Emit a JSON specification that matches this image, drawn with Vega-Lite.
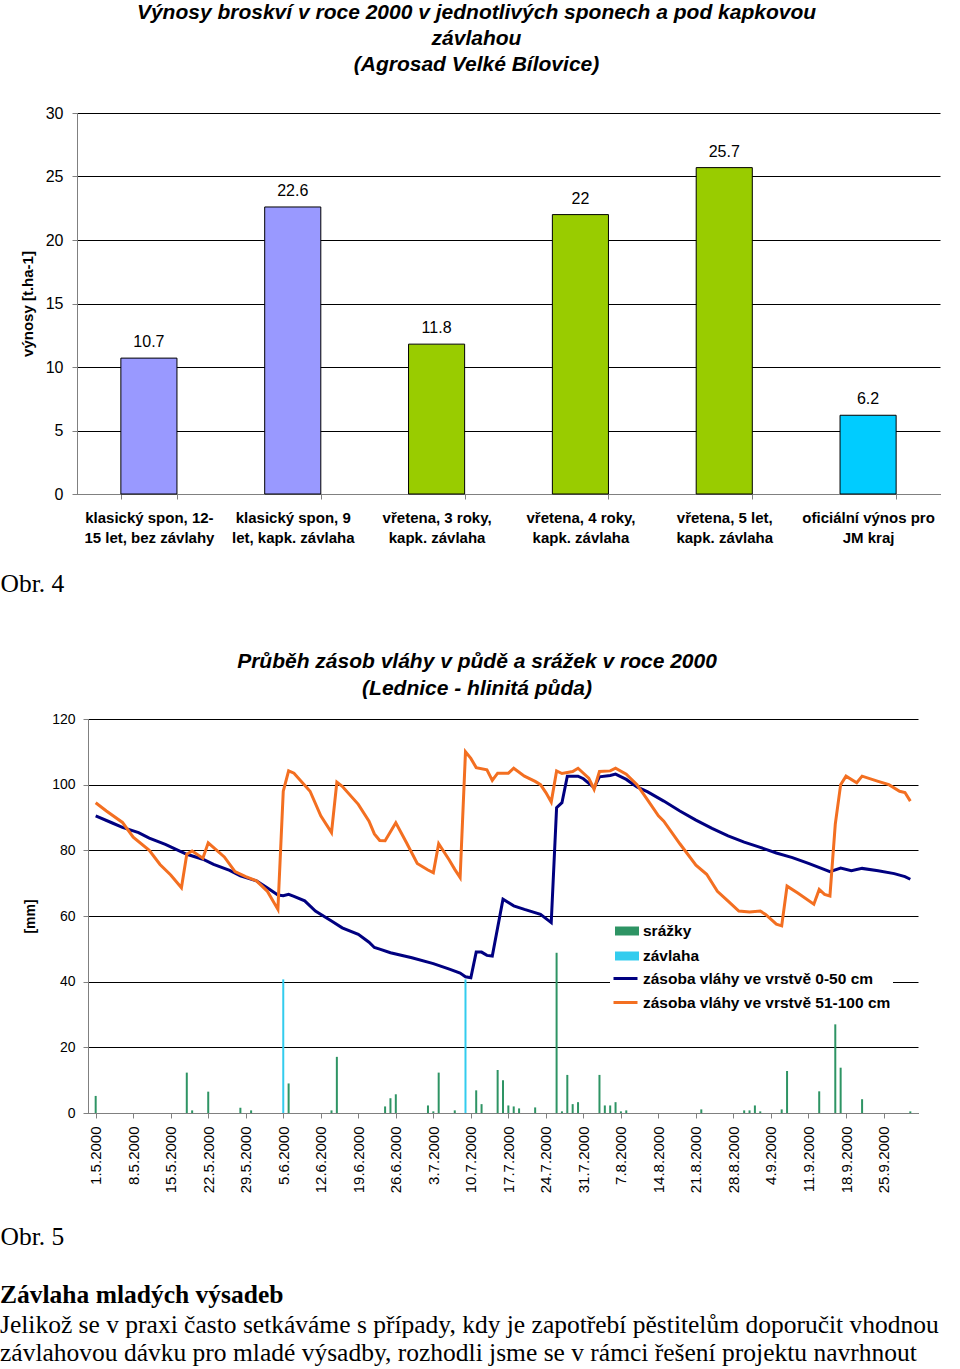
{
  "$schema": "https://vega.github.io/schema/vega-lite/v6.json",
  "padding": {"top": 2, "left": 0, "right": 0, "bottom": 0},
  "background": "white",
  "vconcat": [
    {
      "width": 852,
      "height": 381,
      "title": {
        "text": ["Výnosy broskví v roce 2000 v jednotlivých sponech a  pod kapkovou", "závlahou", "(Agrosad Velké Bílovice)"],
        "font": "Liberation Sans", "fontSize": 21, "fontWeight": "bold", "fontStyle": "italic",
        "lineHeight": 26, "anchor": "middle", "frame": "bounds", "offset": 30, "dx": 1, "color": "black"
      },
      "data": {"name": "vynosy"},
      "encoding": {
        "x": {
          "field": "kategorie", "type": "nominal", "sort": null,
          "scale": {"paddingInner": 0.61, "paddingOuter": 0.305, "range": [-11, 852]},
          "axis": {
            "labelExpr": "split(datum.label, '|')",
            "labelAngle": 0, "labelFont": "Liberation Sans", "labelFontSize": 15, "labelFontWeight": "bold", "labelColor": "black",
            "labelLineHeight": 20, "labelPadding": 11, "labelLimit": 300,
            "tickBand": "extent", "tickSize": 5, "tickColor": "#808080", "domainColor": "#808080",
            "title": "Obr. 4", "titleX": -88, "titleY": 97, "titleAlign": "left", "titleBaseline": "alphabetic",
            "titleFont": "Liberation Serif", "titleFontSize": 25.5, "titleFontWeight": "normal", "titleColor": "black"
          }
        },
        "y": {
          "field": "vynos", "type": "quantitative",
          "scale": {"domain": [0, 30], "nice": false},
          "axis": {
            "values": [0, 5, 10, 15, 20, 25, 30], "title": "výnosy [t.ha-1]", "offset": 11,
            "grid": true, "gridColor": "black", "gridWidth": 1,
            "domainColor": "#808080", "tickColor": "#808080", "tickSize": 5,
            "labelFont": "Liberation Sans", "labelFontSize": 16, "labelColor": "black", "labelPadding": 9,
            "titleFont": "Liberation Sans", "titleFontSize": 15, "titleFontWeight": "bold", "titleColor": "black", "titlePadding": 10
          }
        }
      },
      "layer": [
        {
          "mark": {"type": "bar", "stroke": "black", "strokeWidth": 1},
          "encoding": {
            "color": {
              "field": "skupina", "type": "nominal", "legend": null,
              "scale": {"domain": ["klasický spon", "vřetena", "JM kraj"], "range": ["#9999FF", "#99CC00", "#00CCFF"]}
            }
          }
        },
        {
          "mark": {"type": "text", "baseline": "bottom", "dy": -8, "font": "Liberation Sans", "fontSize": 16, "color": "black"},
          "encoding": {"text": {"field": "vynos", "type": "quantitative"}}
        }
      ]
    },
    {
      "width": 830,
      "height": 394,
      "title": {
        "text": ["Průběh zásob vláhy v půdě a srážek v roce 2000", "(Lednice - hlinitá půda)"],
        "font": "Liberation Sans", "fontSize": 21, "fontWeight": "bold", "fontStyle": "italic",
        "lineHeight": 27, "anchor": "middle", "frame": "bounds", "offset": 13, "dx": 18, "color": "black"
      },
      "encoding": {
        "x": {
          "field": "datum", "type": "temporal",
          "scale": {"type": "utc", "nice": false, "domain": [{"year": 2000, "month": 4, "date": 30, "hours": 12, "utc": true}, {"year": 2000, "month": 9, "date": 30, "hours": 12, "utc": true}]},
          "axis": {
            "values": [
              {"year": 2000, "month": 5, "date": 1, "utc": true}, {"year": 2000, "month": 5, "date": 8, "utc": true},
              {"year": 2000, "month": 5, "date": 15, "utc": true}, {"year": 2000, "month": 5, "date": 22, "utc": true},
              {"year": 2000, "month": 5, "date": 29, "utc": true}, {"year": 2000, "month": 6, "date": 5, "utc": true},
              {"year": 2000, "month": 6, "date": 12, "utc": true}, {"year": 2000, "month": 6, "date": 19, "utc": true},
              {"year": 2000, "month": 6, "date": 26, "utc": true}, {"year": 2000, "month": 7, "date": 3, "utc": true},
              {"year": 2000, "month": 7, "date": 10, "utc": true}, {"year": 2000, "month": 7, "date": 17, "utc": true},
              {"year": 2000, "month": 7, "date": 24, "utc": true}, {"year": 2000, "month": 7, "date": 31, "utc": true},
              {"year": 2000, "month": 8, "date": 7, "utc": true}, {"year": 2000, "month": 8, "date": 14, "utc": true},
              {"year": 2000, "month": 8, "date": 21, "utc": true}, {"year": 2000, "month": 8, "date": 28, "utc": true},
              {"year": 2000, "month": 9, "date": 4, "utc": true}, {"year": 2000, "month": 9, "date": 11, "utc": true},
              {"year": 2000, "month": 9, "date": 18, "utc": true}, {"year": 2000, "month": 9, "date": 25, "utc": true}
            ],
            "labelExpr": "utcFormat(datum.value, '%-d.%-m.%Y')",
            "labelAngle": -90, "labelAlign": "right", "labelBaseline": "middle",
            "labelFont": "Liberation Sans", "labelFontSize": 15, "labelColor": "black", "labelPadding": 8, "labelFlush": false, "labelOverlap": false,
            "tickSize": 5, "tickColor": "#808080", "domainColor": "#808080", "grid": false,
            "title": "Obr. 5", "titleX": -88, "titleY": 131, "titleAlign": "left", "titleBaseline": "alphabetic", "titleAngle": 0,
            "titleFont": "Liberation Serif", "titleFontSize": 25.5, "titleFontWeight": "normal", "titleColor": "black"
          }
        },
        "y": {
          "type": "quantitative",
          "scale": {"domain": [0, 120], "nice": false},
          "axis": {
            "values": [0, 20, 40, 60, 80, 100, 120], "title": "[mm]",
            "grid": true, "gridColor": "black", "gridWidth": 1,
            "domainColor": "#808080", "tickColor": "#808080", "tickSize": 5,
            "labelFont": "Liberation Sans", "labelFontSize": 14, "labelColor": "black", "labelPadding": 8,
            "titleFont": "Liberation Sans", "titleFontSize": 14, "titleFontWeight": "bold", "titleColor": "black", "titlePadding": 14
          }
        }
      },
      "layer": [
        {
          "data": {"name": "srazky"},
          "mark": {"type": "bar", "width": 2},
          "encoding": {
            "y": {"field": "mm", "type": "quantitative", "stack": null},
            "fill": {
              "field": "druh", "type": "nominal",
              "scale": {"domain": ["srážky", "závlaha"], "range": ["#2E9464", "#33CCEE"]},
              "legend": {
                "title": null, "orient": "none", "legendX": 525, "legendY": 804,
                "symbolType": "M-1,-0.375H1V0.375H-1Z", "symbolSize": 576, "symbolStrokeWidth": 0,
                "labelFont": "Liberation Sans", "labelFontSize": 15.5, "labelFontWeight": "bold", "labelColor": "black",
                "labelOffset": 4, "labelLimit": 400, "rowPadding": 4, "padding": 2, "fillColor": "white"
              }
            }
          }
        },
        {
          "data": {"name": "zasoby"},
          "mark": {"type": "line", "strokeWidth": 3, "interpolate": "linear"},
          "encoding": {
            "y": {"field": "mm", "type": "quantitative"},
            "stroke": {
              "field": "vrstva", "type": "nominal",
              "scale": {"domain": ["zásoba vláhy ve vrstvě 0-50 cm", "zásoba vláhy ve vrstvě 51-100 cm"], "range": ["#000080", "#F36F21"]},
              "legend": {
                "title": null, "orient": "none", "legendX": 522, "legendY": 850,
                "symbolType": "stroke", "symbolSize": 576, "symbolStrokeWidth": 3,
                "labelFont": "Liberation Sans", "labelFontSize": 15.5, "labelFontWeight": "bold", "labelColor": "black",
                "labelOffset": 4, "labelLimit": 400, "rowPadding": 2, "padding": 2, "fillColor": "white"
              }
            }
          }
        }
      ]
    }
  ],
  "spacing": 54,
  "title": {
    "text": "Závlaha mladých výsadeb",
    "subtitle": ["Jelikož se v praxi často setkáváme s případy, kdy je zapotřebí pěstitelům doporučit vhodnou", "závlahovou dávku pro mladé výsadby, rozhodli jsme se v rámci řešení projektu navrhnout"],
    "orient": "bottom", "anchor": "start", "frame": "bounds", "offset": 33,
    "font": "Liberation Serif", "fontSize": 25.5, "fontWeight": "bold", "color": "black",
    "subtitleFont": "Liberation Serif", "subtitleFontSize": 25.5, "subtitleColor": "black", "subtitleLineHeight": 28, "subtitlePadding": 5
  },
  "config": {"view": {"stroke": null}},
  "datasets": {
    "vynosy": [
      {"kategorie": "klasický spon, 12-|15 let, bez závlahy", "skupina": "klasický spon", "vynos": 10.7},
      {"kategorie": "klasický spon, 9|let, kapk. závlaha", "skupina": "klasický spon", "vynos": 22.6},
      {"kategorie": "vřetena, 3 roky,|kapk. závlaha", "skupina": "vřetena", "vynos": 11.8},
      {"kategorie": "vřetena, 4 roky,|kapk. závlaha", "skupina": "vřetena", "vynos": 22},
      {"kategorie": "vřetena, 5 let,|kapk. závlaha", "skupina": "vřetena", "vynos": 25.7},
      {"kategorie": "oficiální výnos pro|JM kraj", "skupina": "JM kraj", "vynos": 6.2}
    ],
    "srazky": [
      {"datum": "2000-05-01", "druh": "srážky", "mm": 5.2},
      {"datum": "2000-05-18", "druh": "srážky", "mm": 12.3},
      {"datum": "2000-05-19", "druh": "srážky", "mm": 0.8},
      {"datum": "2000-05-22", "druh": "srážky", "mm": 6.5},
      {"datum": "2000-05-28", "druh": "srážky", "mm": 1.6},
      {"datum": "2000-05-30", "druh": "srážky", "mm": 0.8},
      {"datum": "2000-06-05", "druh": "závlaha", "mm": 40.7},
      {"datum": "2000-06-06", "druh": "srážky", "mm": 9.0},
      {"datum": "2000-06-14", "druh": "srážky", "mm": 0.8},
      {"datum": "2000-06-15", "druh": "srážky", "mm": 17.1},
      {"datum": "2000-06-24", "druh": "srážky", "mm": 2.0},
      {"datum": "2000-06-25", "druh": "srážky", "mm": 4.5},
      {"datum": "2000-06-26", "druh": "srážky", "mm": 5.7},
      {"datum": "2000-07-02", "druh": "srážky", "mm": 2.3},
      {"datum": "2000-07-03", "druh": "srážky", "mm": 0.5},
      {"datum": "2000-07-04", "druh": "srážky", "mm": 12.3},
      {"datum": "2000-07-07", "druh": "srážky", "mm": 0.8},
      {"datum": "2000-07-09", "druh": "závlaha", "mm": 40.7},
      {"datum": "2000-07-11", "druh": "srážky", "mm": 6.9},
      {"datum": "2000-07-12", "druh": "srážky", "mm": 2.7},
      {"datum": "2000-07-15", "druh": "srážky", "mm": 13.1},
      {"datum": "2000-07-16", "druh": "srážky", "mm": 10.0},
      {"datum": "2000-07-17", "druh": "srážky", "mm": 2.3},
      {"datum": "2000-07-18", "druh": "srážky", "mm": 2.0},
      {"datum": "2000-07-19", "druh": "srážky", "mm": 1.4},
      {"datum": "2000-07-22", "druh": "srážky", "mm": 1.7},
      {"datum": "2000-07-26", "druh": "srážky", "mm": 48.8},
      {"datum": "2000-07-27", "druh": "srážky", "mm": 0.5},
      {"datum": "2000-07-28", "druh": "srážky", "mm": 11.6},
      {"datum": "2000-07-29", "druh": "srážky", "mm": 2.7},
      {"datum": "2000-07-30", "druh": "srážky", "mm": 3.3},
      {"datum": "2000-08-03", "druh": "srážky", "mm": 11.6},
      {"datum": "2000-08-04", "druh": "srážky", "mm": 2.3},
      {"datum": "2000-08-05", "druh": "srážky", "mm": 2.3},
      {"datum": "2000-08-06", "druh": "srážky", "mm": 3.3},
      {"datum": "2000-08-07", "druh": "srážky", "mm": 0.5},
      {"datum": "2000-08-08", "druh": "srážky", "mm": 0.8},
      {"datum": "2000-08-22", "druh": "srážky", "mm": 1.1},
      {"datum": "2000-08-30", "druh": "srážky", "mm": 0.8},
      {"datum": "2000-08-31", "druh": "srážky", "mm": 0.8},
      {"datum": "2000-09-01", "druh": "srážky", "mm": 2.3},
      {"datum": "2000-09-02", "druh": "srážky", "mm": 0.5},
      {"datum": "2000-09-06", "druh": "srážky", "mm": 1.1},
      {"datum": "2000-09-07", "druh": "srážky", "mm": 12.8},
      {"datum": "2000-09-13", "druh": "srážky", "mm": 6.6},
      {"datum": "2000-09-16", "druh": "srážky", "mm": 27.0},
      {"datum": "2000-09-17", "druh": "srážky", "mm": 13.8},
      {"datum": "2000-09-21", "druh": "srážky", "mm": 4.2},
      {"datum": "2000-09-30", "druh": "srážky", "mm": 0.5}
    ],
    "zasoby": [
      {"datum": "2000-05-01", "vrstva": "zásoba vláhy ve vrstvě 0-50 cm", "mm": 90.5},
      {"datum": "2000-05-04", "vrstva": "zásoba vláhy ve vrstvě 0-50 cm", "mm": 88.4},
      {"datum": "2000-05-06", "vrstva": "zásoba vláhy ve vrstvě 0-50 cm", "mm": 87},
      {"datum": "2000-05-09", "vrstva": "zásoba vláhy ve vrstvě 0-50 cm", "mm": 85.4},
      {"datum": "2000-05-11", "vrstva": "zásoba vláhy ve vrstvě 0-50 cm", "mm": 83.7},
      {"datum": "2000-05-14", "vrstva": "zásoba vláhy ve vrstvě 0-50 cm", "mm": 81.8},
      {"datum": "2000-05-16", "vrstva": "zásoba vláhy ve vrstvě 0-50 cm", "mm": 80.3},
      {"datum": "2000-05-18", "vrstva": "zásoba vláhy ve vrstvě 0-50 cm", "mm": 78.8},
      {"datum": "2000-05-21", "vrstva": "zásoba vláhy ve vrstvě 0-50 cm", "mm": 77.3},
      {"datum": "2000-05-23", "vrstva": "zásoba vláhy ve vrstvě 0-50 cm", "mm": 75.7},
      {"datum": "2000-05-26", "vrstva": "zásoba vláhy ve vrstvě 0-50 cm", "mm": 73.9},
      {"datum": "2000-05-28", "vrstva": "zásoba vláhy ve vrstvě 0-50 cm", "mm": 72.2},
      {"datum": "2000-05-31", "vrstva": "zásoba vláhy ve vrstvě 0-50 cm", "mm": 70.7},
      {"datum": "2000-06-02", "vrstva": "zásoba vláhy ve vrstvě 0-50 cm", "mm": 68.6},
      {"datum": "2000-06-04", "vrstva": "zásoba vláhy ve vrstvě 0-50 cm", "mm": 66.4},
      {"datum": "2000-06-05", "vrstva": "zásoba vláhy ve vrstvě 0-50 cm", "mm": 66.2},
      {"datum": "2000-06-06", "vrstva": "zásoba vláhy ve vrstvě 0-50 cm", "mm": 66.6},
      {"datum": "2000-06-07", "vrstva": "zásoba vláhy ve vrstvě 0-50 cm", "mm": 66},
      {"datum": "2000-06-09", "vrstva": "zásoba vláhy ve vrstvě 0-50 cm", "mm": 64.6},
      {"datum": "2000-06-11", "vrstva": "zásoba vláhy ve vrstvě 0-50 cm", "mm": 61.5},
      {"datum": "2000-06-14", "vrstva": "zásoba vláhy ve vrstvě 0-50 cm", "mm": 58.5},
      {"datum": "2000-06-16", "vrstva": "zásoba vláhy ve vrstvě 0-50 cm", "mm": 56.4},
      {"datum": "2000-06-19", "vrstva": "zásoba vláhy ve vrstvě 0-50 cm", "mm": 54.4},
      {"datum": "2000-06-21", "vrstva": "zásoba vláhy ve vrstvě 0-50 cm", "mm": 52},
      {"datum": "2000-06-22", "vrstva": "zásoba vláhy ve vrstvě 0-50 cm", "mm": 50.4},
      {"datum": "2000-06-23", "vrstva": "zásoba vláhy ve vrstvě 0-50 cm", "mm": 49.9},
      {"datum": "2000-06-25", "vrstva": "zásoba vláhy ve vrstvě 0-50 cm", "mm": 48.8},
      {"datum": "2000-06-29", "vrstva": "zásoba vláhy ve vrstvě 0-50 cm", "mm": 47.3},
      {"datum": "2000-07-03", "vrstva": "zásoba vláhy ve vrstvě 0-50 cm", "mm": 45.5},
      {"datum": "2000-07-06", "vrstva": "zásoba vláhy ve vrstvě 0-50 cm", "mm": 43.8},
      {"datum": "2000-07-08", "vrstva": "zásoba vláhy ve vrstvě 0-50 cm", "mm": 42.6},
      {"datum": "2000-07-09", "vrstva": "zásoba vláhy ve vrstvě 0-50 cm", "mm": 41.5},
      {"datum": "2000-07-10", "vrstva": "zásoba vláhy ve vrstvě 0-50 cm", "mm": 41.2},
      {"datum": "2000-07-11", "vrstva": "zásoba vláhy ve vrstvě 0-50 cm", "mm": 49},
      {"datum": "2000-07-12", "vrstva": "zásoba vláhy ve vrstvě 0-50 cm", "mm": 49},
      {"datum": "2000-07-13", "vrstva": "zásoba vláhy ve vrstvě 0-50 cm", "mm": 48},
      {"datum": "2000-07-14", "vrstva": "zásoba vláhy ve vrstvě 0-50 cm", "mm": 47.8},
      {"datum": "2000-07-16", "vrstva": "zásoba vláhy ve vrstvě 0-50 cm", "mm": 65.1},
      {"datum": "2000-07-18", "vrstva": "zásoba vláhy ve vrstvě 0-50 cm", "mm": 63.1},
      {"datum": "2000-07-20", "vrstva": "zásoba vláhy ve vrstvě 0-50 cm", "mm": 62},
      {"datum": "2000-07-23", "vrstva": "zásoba vláhy ve vrstvě 0-50 cm", "mm": 60.5},
      {"datum": "2000-07-25", "vrstva": "zásoba vláhy ve vrstvě 0-50 cm", "mm": 58},
      {"datum": "2000-07-26", "vrstva": "zásoba vláhy ve vrstvě 0-50 cm", "mm": 93},
      {"datum": "2000-07-27", "vrstva": "zásoba vláhy ve vrstvě 0-50 cm", "mm": 94.5},
      {"datum": "2000-07-28", "vrstva": "zásoba vláhy ve vrstvě 0-50 cm", "mm": 102.6},
      {"datum": "2000-07-30", "vrstva": "zásoba vláhy ve vrstvě 0-50 cm", "mm": 102.6},
      {"datum": "2000-07-31", "vrstva": "zásoba vláhy ve vrstvě 0-50 cm", "mm": 101.8},
      {"datum": "2000-08-02", "vrstva": "zásoba vláhy ve vrstvě 0-50 cm", "mm": 99.1},
      {"datum": "2000-08-03", "vrstva": "zásoba vláhy ve vrstvě 0-50 cm", "mm": 102.4},
      {"datum": "2000-08-05", "vrstva": "zásoba vláhy ve vrstvě 0-50 cm", "mm": 102.8},
      {"datum": "2000-08-06", "vrstva": "zásoba vláhy ve vrstvě 0-50 cm", "mm": 103.2},
      {"datum": "2000-08-08", "vrstva": "zásoba vláhy ve vrstvě 0-50 cm", "mm": 101.6},
      {"datum": "2000-08-10", "vrstva": "zásoba vláhy ve vrstvě 0-50 cm", "mm": 99.3},
      {"datum": "2000-08-12", "vrstva": "zásoba vláhy ve vrstvě 0-50 cm", "mm": 97.8},
      {"datum": "2000-08-15", "vrstva": "zásoba vláhy ve vrstvě 0-50 cm", "mm": 95},
      {"datum": "2000-08-18", "vrstva": "zásoba vláhy ve vrstvě 0-50 cm", "mm": 92},
      {"datum": "2000-08-21", "vrstva": "zásoba vláhy ve vrstvě 0-50 cm", "mm": 89.2},
      {"datum": "2000-08-24", "vrstva": "zásoba vláhy ve vrstvě 0-50 cm", "mm": 86.7},
      {"datum": "2000-08-27", "vrstva": "zásoba vláhy ve vrstvě 0-50 cm", "mm": 84.4},
      {"datum": "2000-08-30", "vrstva": "zásoba vláhy ve vrstvě 0-50 cm", "mm": 82.5},
      {"datum": "2000-09-02", "vrstva": "zásoba vláhy ve vrstvě 0-50 cm", "mm": 80.9},
      {"datum": "2000-09-05", "vrstva": "zásoba vláhy ve vrstvě 0-50 cm", "mm": 79.2},
      {"datum": "2000-09-08", "vrstva": "zásoba vláhy ve vrstvě 0-50 cm", "mm": 77.8},
      {"datum": "2000-09-11", "vrstva": "zásoba vláhy ve vrstvě 0-50 cm", "mm": 76},
      {"datum": "2000-09-15", "vrstva": "zásoba vláhy ve vrstvě 0-50 cm", "mm": 73.5},
      {"datum": "2000-09-17", "vrstva": "zásoba vláhy ve vrstvě 0-50 cm", "mm": 74.6},
      {"datum": "2000-09-19", "vrstva": "zásoba vláhy ve vrstvě 0-50 cm", "mm": 73.8},
      {"datum": "2000-09-21", "vrstva": "zásoba vláhy ve vrstvě 0-50 cm", "mm": 74.5},
      {"datum": "2000-09-24", "vrstva": "zásoba vláhy ve vrstvě 0-50 cm", "mm": 73.8},
      {"datum": "2000-09-27", "vrstva": "zásoba vláhy ve vrstvě 0-50 cm", "mm": 72.9},
      {"datum": "2000-09-29", "vrstva": "zásoba vláhy ve vrstvě 0-50 cm", "mm": 72},
      {"datum": "2000-09-30", "vrstva": "zásoba vláhy ve vrstvě 0-50 cm", "mm": 71.2},
      {"datum": "2000-05-01", "vrstva": "zásoba vláhy ve vrstvě 51-100 cm", "mm": 94.5},
      {"datum": "2000-05-03", "vrstva": "zásoba vláhy ve vrstvě 51-100 cm", "mm": 92},
      {"datum": "2000-05-06", "vrstva": "zásoba vláhy ve vrstvě 51-100 cm", "mm": 88.5},
      {"datum": "2000-05-08", "vrstva": "zásoba vláhy ve vrstvě 51-100 cm", "mm": 84},
      {"datum": "2000-05-11", "vrstva": "zásoba vláhy ve vrstvě 51-100 cm", "mm": 80},
      {"datum": "2000-05-13", "vrstva": "zásoba vláhy ve vrstvě 51-100 cm", "mm": 75.7},
      {"datum": "2000-05-15", "vrstva": "zásoba vláhy ve vrstvě 51-100 cm", "mm": 72.5},
      {"datum": "2000-05-17", "vrstva": "zásoba vláhy ve vrstvě 51-100 cm", "mm": 68.6},
      {"datum": "2000-05-18", "vrstva": "zásoba vláhy ve vrstvě 51-100 cm", "mm": 78.8},
      {"datum": "2000-05-19", "vrstva": "zásoba vláhy ve vrstvě 51-100 cm", "mm": 79.8},
      {"datum": "2000-05-21", "vrstva": "zásoba vláhy ve vrstvě 51-100 cm", "mm": 77.6},
      {"datum": "2000-05-22", "vrstva": "zásoba vláhy ve vrstvě 51-100 cm", "mm": 82.3},
      {"datum": "2000-05-25", "vrstva": "zásoba vláhy ve vrstvě 51-100 cm", "mm": 78},
      {"datum": "2000-05-27", "vrstva": "zásoba vláhy ve vrstvě 51-100 cm", "mm": 73.5},
      {"datum": "2000-05-29", "vrstva": "zásoba vláhy ve vrstvě 51-100 cm", "mm": 72},
      {"datum": "2000-05-31", "vrstva": "zásoba vláhy ve vrstvě 51-100 cm", "mm": 70.7},
      {"datum": "2000-06-02", "vrstva": "zásoba vláhy ve vrstvě 51-100 cm", "mm": 67.6},
      {"datum": "2000-06-04", "vrstva": "zásoba vláhy ve vrstvě 51-100 cm", "mm": 62},
      {"datum": "2000-06-05", "vrstva": "zásoba vláhy ve vrstvě 51-100 cm", "mm": 98},
      {"datum": "2000-06-06", "vrstva": "zásoba vláhy ve vrstvě 51-100 cm", "mm": 104.2},
      {"datum": "2000-06-07", "vrstva": "zásoba vláhy ve vrstvě 51-100 cm", "mm": 103.5},
      {"datum": "2000-06-10", "vrstva": "zásoba vláhy ve vrstvě 51-100 cm", "mm": 98},
      {"datum": "2000-06-12", "vrstva": "zásoba vláhy ve vrstvě 51-100 cm", "mm": 90.5},
      {"datum": "2000-06-14", "vrstva": "zásoba vláhy ve vrstvě 51-100 cm", "mm": 85.4},
      {"datum": "2000-06-15", "vrstva": "zásoba vláhy ve vrstvě 51-100 cm", "mm": 100.8},
      {"datum": "2000-06-16", "vrstva": "zásoba vláhy ve vrstvě 51-100 cm", "mm": 99.5},
      {"datum": "2000-06-19", "vrstva": "zásoba vláhy ve vrstvě 51-100 cm", "mm": 94},
      {"datum": "2000-06-21", "vrstva": "zásoba vláhy ve vrstvě 51-100 cm", "mm": 88.9},
      {"datum": "2000-06-22", "vrstva": "zásoba vláhy ve vrstvě 51-100 cm", "mm": 85},
      {"datum": "2000-06-23", "vrstva": "zásoba vláhy ve vrstvě 51-100 cm", "mm": 83},
      {"datum": "2000-06-24", "vrstva": "zásoba vláhy ve vrstvě 51-100 cm", "mm": 82.9},
      {"datum": "2000-06-26", "vrstva": "zásoba vláhy ve vrstvě 51-100 cm", "mm": 88.4},
      {"datum": "2000-06-28", "vrstva": "zásoba vláhy ve vrstvě 51-100 cm", "mm": 82.3},
      {"datum": "2000-06-30", "vrstva": "zásoba vláhy ve vrstvě 51-100 cm", "mm": 76},
      {"datum": "2000-07-02", "vrstva": "zásoba vláhy ve vrstvě 51-100 cm", "mm": 74},
      {"datum": "2000-07-03", "vrstva": "zásoba vláhy ve vrstvě 51-100 cm", "mm": 73.2},
      {"datum": "2000-07-04", "vrstva": "zásoba vláhy ve vrstvě 51-100 cm", "mm": 82},
      {"datum": "2000-07-06", "vrstva": "zásoba vláhy ve vrstvě 51-100 cm", "mm": 77},
      {"datum": "2000-07-07", "vrstva": "zásoba vláhy ve vrstvě 51-100 cm", "mm": 74.2},
      {"datum": "2000-07-08", "vrstva": "zásoba vláhy ve vrstvě 51-100 cm", "mm": 71.7},
      {"datum": "2000-07-09", "vrstva": "zásoba vláhy ve vrstvě 51-100 cm", "mm": 110},
      {"datum": "2000-07-10", "vrstva": "zásoba vláhy ve vrstvě 51-100 cm", "mm": 108},
      {"datum": "2000-07-11", "vrstva": "zásoba vláhy ve vrstvě 51-100 cm", "mm": 105.2},
      {"datum": "2000-07-13", "vrstva": "zásoba vláhy ve vrstvě 51-100 cm", "mm": 104.5},
      {"datum": "2000-07-14", "vrstva": "zásoba vláhy ve vrstvě 51-100 cm", "mm": 101.3},
      {"datum": "2000-07-15", "vrstva": "zásoba vláhy ve vrstvě 51-100 cm", "mm": 103.5},
      {"datum": "2000-07-17", "vrstva": "zásoba vláhy ve vrstvě 51-100 cm", "mm": 103.5},
      {"datum": "2000-07-18", "vrstva": "zásoba vláhy ve vrstvě 51-100 cm", "mm": 105},
      {"datum": "2000-07-20", "vrstva": "zásoba vláhy ve vrstvě 51-100 cm", "mm": 102.6},
      {"datum": "2000-07-22", "vrstva": "zásoba vláhy ve vrstvě 51-100 cm", "mm": 101},
      {"datum": "2000-07-23", "vrstva": "zásoba vláhy ve vrstvě 51-100 cm", "mm": 100},
      {"datum": "2000-07-24", "vrstva": "zásoba vláhy ve vrstvě 51-100 cm", "mm": 97.6},
      {"datum": "2000-07-25", "vrstva": "zásoba vláhy ve vrstvě 51-100 cm", "mm": 94.7},
      {"datum": "2000-07-26", "vrstva": "zásoba vláhy ve vrstvě 51-100 cm", "mm": 104.2},
      {"datum": "2000-07-27", "vrstva": "zásoba vláhy ve vrstvě 51-100 cm", "mm": 103.4},
      {"datum": "2000-07-29", "vrstva": "zásoba vláhy ve vrstvě 51-100 cm", "mm": 104},
      {"datum": "2000-07-30", "vrstva": "zásoba vláhy ve vrstvě 51-100 cm", "mm": 105},
      {"datum": "2000-08-01", "vrstva": "zásoba vláhy ve vrstvě 51-100 cm", "mm": 102},
      {"datum": "2000-08-02", "vrstva": "zásoba vláhy ve vrstvě 51-100 cm", "mm": 98.6},
      {"datum": "2000-08-03", "vrstva": "zásoba vláhy ve vrstvě 51-100 cm", "mm": 104},
      {"datum": "2000-08-05", "vrstva": "zásoba vláhy ve vrstvě 51-100 cm", "mm": 104.2},
      {"datum": "2000-08-06", "vrstva": "zásoba vláhy ve vrstvě 51-100 cm", "mm": 105},
      {"datum": "2000-08-08", "vrstva": "zásoba vláhy ve vrstvě 51-100 cm", "mm": 103.2},
      {"datum": "2000-08-10", "vrstva": "zásoba vláhy ve vrstvě 51-100 cm", "mm": 100},
      {"datum": "2000-08-12", "vrstva": "zásoba vláhy ve vrstvě 51-100 cm", "mm": 95.3},
      {"datum": "2000-08-14", "vrstva": "zásoba vláhy ve vrstvě 51-100 cm", "mm": 90.5},
      {"datum": "2000-08-15", "vrstva": "zásoba vláhy ve vrstvě 51-100 cm", "mm": 88.9},
      {"datum": "2000-08-18", "vrstva": "zásoba vláhy ve vrstvě 51-100 cm", "mm": 82},
      {"datum": "2000-08-21", "vrstva": "zásoba vláhy ve vrstvě 51-100 cm", "mm": 75.5},
      {"datum": "2000-08-23", "vrstva": "zásoba vláhy ve vrstvě 51-100 cm", "mm": 72.7},
      {"datum": "2000-08-25", "vrstva": "zásoba vláhy ve vrstvě 51-100 cm", "mm": 67.5},
      {"datum": "2000-08-27", "vrstva": "zásoba vláhy ve vrstvě 51-100 cm", "mm": 64.5},
      {"datum": "2000-08-29", "vrstva": "zásoba vláhy ve vrstvě 51-100 cm", "mm": 61.5},
      {"datum": "2000-08-31", "vrstva": "zásoba vláhy ve vrstvě 51-100 cm", "mm": 61.2},
      {"datum": "2000-09-02", "vrstva": "zásoba vláhy ve vrstvě 51-100 cm", "mm": 61.5},
      {"datum": "2000-09-03", "vrstva": "zásoba vláhy ve vrstvě 51-100 cm", "mm": 60.5},
      {"datum": "2000-09-05", "vrstva": "zásoba vláhy ve vrstvě 51-100 cm", "mm": 57.5},
      {"datum": "2000-09-06", "vrstva": "zásoba vláhy ve vrstvě 51-100 cm", "mm": 57},
      {"datum": "2000-09-07", "vrstva": "zásoba vláhy ve vrstvě 51-100 cm", "mm": 69.1},
      {"datum": "2000-09-09", "vrstva": "zásoba vláhy ve vrstvě 51-100 cm", "mm": 67},
      {"datum": "2000-09-12", "vrstva": "zásoba vláhy ve vrstvě 51-100 cm", "mm": 63.6},
      {"datum": "2000-09-13", "vrstva": "zásoba vláhy ve vrstvě 51-100 cm", "mm": 68.1},
      {"datum": "2000-09-14", "vrstva": "zásoba vláhy ve vrstvě 51-100 cm", "mm": 66.6},
      {"datum": "2000-09-15", "vrstva": "zásoba vláhy ve vrstvě 51-100 cm", "mm": 66.1},
      {"datum": "2000-09-16", "vrstva": "zásoba vláhy ve vrstvě 51-100 cm", "mm": 88},
      {"datum": "2000-09-17", "vrstva": "zásoba vláhy ve vrstvě 51-100 cm", "mm": 100},
      {"datum": "2000-09-18", "vrstva": "zásoba vláhy ve vrstvě 51-100 cm", "mm": 102.6},
      {"datum": "2000-09-20", "vrstva": "zásoba vláhy ve vrstvě 51-100 cm", "mm": 100.6},
      {"datum": "2000-09-21", "vrstva": "zásoba vláhy ve vrstvě 51-100 cm", "mm": 102.6},
      {"datum": "2000-09-24", "vrstva": "zásoba vláhy ve vrstvě 51-100 cm", "mm": 101},
      {"datum": "2000-09-26", "vrstva": "zásoba vláhy ve vrstvě 51-100 cm", "mm": 100},
      {"datum": "2000-09-28", "vrstva": "zásoba vláhy ve vrstvě 51-100 cm", "mm": 98},
      {"datum": "2000-09-29", "vrstva": "zásoba vláhy ve vrstvě 51-100 cm", "mm": 97.6},
      {"datum": "2000-09-30", "vrstva": "zásoba vláhy ve vrstvě 51-100 cm", "mm": 95}
    ]
  }
}
